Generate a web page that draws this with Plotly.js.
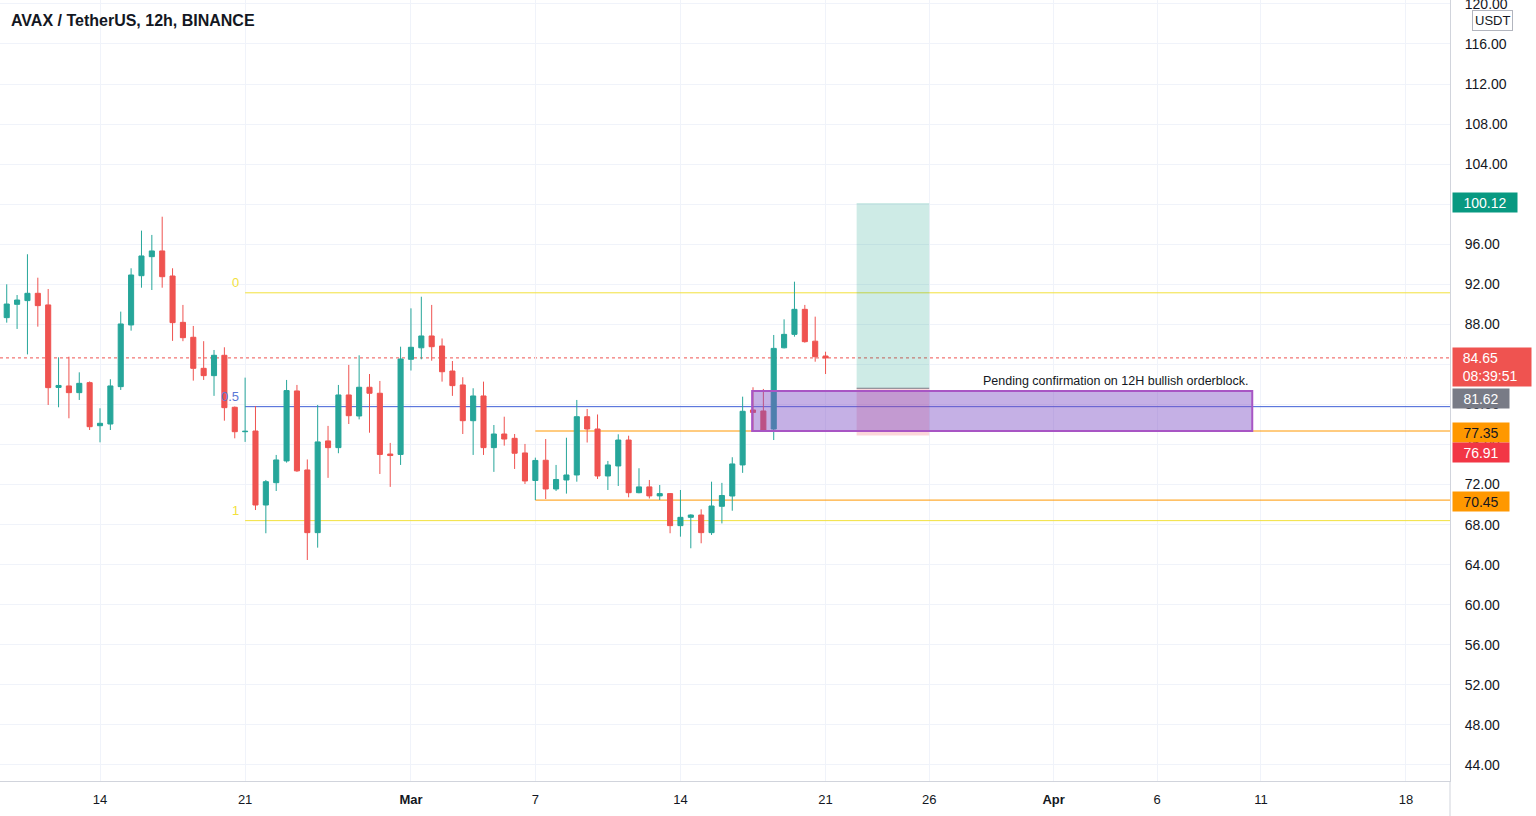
<!DOCTYPE html>
<html>
<head>
<meta charset="utf-8">
<script src="https://cdn.plot.ly/plotly-3.0.1.min.js"></script>
<style>
  html, body { margin: 0; padding: 0; background: #ffffff; }
  #chart { width: 1536px; height: 816px; }
</style>
</head>
<body>
<div id="chart"></div>
<script>
// ---------- data ----------
const barTimes = [
  '2022-02-09 12:00','2022-02-10 00:00','2022-02-10 12:00','2022-02-11 00:00','2022-02-11 12:00','2022-02-12 00:00','2022-02-12 12:00','2022-02-13 00:00','2022-02-13 12:00','2022-02-14 00:00',
  '2022-02-14 12:00','2022-02-15 00:00','2022-02-15 12:00','2022-02-16 00:00','2022-02-16 12:00','2022-02-17 00:00','2022-02-17 12:00','2022-02-18 00:00','2022-02-18 12:00','2022-02-19 00:00',
  '2022-02-19 12:00','2022-02-20 00:00','2022-02-20 12:00','2022-02-21 00:00','2022-02-21 12:00','2022-02-22 00:00','2022-02-22 12:00','2022-02-23 00:00','2022-02-23 12:00','2022-02-24 00:00',
  '2022-02-24 12:00','2022-02-25 00:00','2022-02-25 12:00','2022-02-26 00:00','2022-02-26 12:00','2022-02-27 00:00','2022-02-27 12:00','2022-02-28 00:00','2022-02-28 12:00','2022-03-01 00:00',
  '2022-03-01 12:00','2022-03-02 00:00','2022-03-02 12:00','2022-03-03 00:00','2022-03-03 12:00','2022-03-04 00:00','2022-03-04 12:00','2022-03-05 00:00','2022-03-05 12:00','2022-03-06 00:00',
  '2022-03-06 12:00','2022-03-07 00:00','2022-03-07 12:00','2022-03-08 00:00','2022-03-08 12:00','2022-03-09 00:00','2022-03-09 12:00','2022-03-10 00:00','2022-03-10 12:00','2022-03-11 00:00',
  '2022-03-11 12:00','2022-03-12 00:00','2022-03-12 12:00','2022-03-13 00:00','2022-03-13 12:00','2022-03-14 00:00','2022-03-14 12:00','2022-03-15 00:00','2022-03-15 12:00','2022-03-16 00:00',
  '2022-03-16 12:00','2022-03-17 00:00','2022-03-17 12:00','2022-03-18 00:00','2022-03-18 12:00','2022-03-19 00:00','2022-03-19 12:00','2022-03-20 00:00','2022-03-20 12:00','2022-03-21 00:00'
];
const openPrices = [
  88.67,90.00,90.37,91.10,89.94,81.70,81.85,81.18,82.18,77.88,
  78.05,81.78,87.94,92.86,94.76,95.33,92.83,88.20,86.71,83.61,
  82.88,84.91,79.72,77.28,77.35,69.96,72.19,74.36,81.35,73.46,
  67.20,76.36,75.69,80.95,78.85,81.72,81.12,75.05,75.01,84.51,
  85.66,86.84,85.84,83.34,81.95,78.38,80.85,75.69,77.05,76.62,
  75.16,72.41,74.43,71.56,72.46,72.96,78.78,77.55,72.86,73.86,
  76.45,71.19,71.77,70.87,71.10,67.90,68.73,68.96,67.20,69.83,
  70.86,73.96,79.45,79.35,77.55,85.66,87.00,89.50,86.32,84.84
];
const highPrices = [
  92.00,90.93,95.00,92.66,91.53,84.71,84.77,83.21,82.30,79.62,
  82.52,89.27,93.60,97.36,96.93,98.75,93.60,89.94,87.84,86.32,
  85.44,85.71,79.80,82.68,79.85,72.46,74.96,82.45,81.95,74.51,
  79.95,77.86,81.95,83.95,84.91,83.04,82.35,76.16,85.77,89.60,
  90.76,89.94,86.59,84.34,82.72,81.62,82.28,77.95,78.78,77.05,
  76.06,74.69,76.55,73.96,76.68,80.45,79.55,79.00,74.36,77.02,
  76.88,73.63,72.46,71.96,71.15,71.46,69.03,69.53,72.29,72.17,
  74.73,80.78,81.72,81.55,86.94,88.50,92.26,89.94,88.77,85.27
];
const lowPrices = [
  88.17,87.54,85.00,87.77,79.95,79.72,78.62,80.45,77.45,76.22,
  77.45,81.45,87.37,91.66,91.43,91.66,86.35,86.32,82.38,82.45,
  80.86,78.38,76.62,76.26,69.46,67.14,71.36,74.19,73.27,64.47,
  65.70,72.67,75.13,78.05,78.51,77.18,73.06,71.77,73.96,83.39,
  84.51,84.37,82.28,80.86,77.05,74.96,74.96,73.27,75.89,73.56,
  72.06,70.45,70.56,71.36,71.10,72.29,76.20,72.56,71.46,71.86,
  70.73,71.13,70.61,70.46,67.14,66.80,65.64,66.14,66.97,68.12,
  69.39,73.17,77.40,77.26,76.45,85.60,86.77,86.17,84.27,83.04
];
const closePrices = [
  90.03,90.43,91.10,89.87,81.68,81.90,81.18,82.11,77.78,78.12,
  81.85,88.04,92.93,94.83,95.33,92.76,88.17,86.67,83.61,82.88,
  84.91,79.68,77.28,77.32,69.96,72.29,74.46,81.39,73.37,67.20,
  76.26,75.69,80.95,78.88,81.72,81.12,75.01,74.90,84.54,85.71,
  86.84,85.77,83.27,81.88,78.38,80.85,75.69,77.05,76.55,75.13,
  72.36,74.41,71.56,72.51,72.96,78.78,77.55,72.86,73.96,76.45,
  71.19,71.77,70.87,71.10,67.90,68.73,68.96,67.20,69.86,70.91,
  74.06,79.32,79.21,77.38,85.60,87.00,89.50,86.27,84.77,84.65
];

// tick labels
const dateTickVals = ['2022-02-14','2022-02-21','2022-03-01','2022-03-07','2022-03-14','2022-03-21','2022-03-26','2022-04-01','2022-04-06','2022-04-11','2022-04-18'];
const dateTickText = ['14','21','<b>Mar</b>','7','14','21','26','<b>Apr</b>','6','11','18'];

// drawing levels
const fibLevels = [91.15, 79.78, 68.40];
const fibLabels = ['0', '0.5', '1'];
const fibStart = '2022-02-21 00:00';
const orangeLevels = [77.35, 70.45];
const orangeStart = '2022-03-07 00:00';
const lastPrice = 84.65;
const countdown = '08:39:51';
const orderBlock = {top: 81.35, bottom: 77.35, start: '2022-03-17 11:00', end: '2022-04-10 14:00'};
const longPos = {entry: 81.62, target: 100.12, stop: 76.91, start: '2022-03-22 12:00', end: '2022-03-26 00:00'};
const noteText = 'Pending confirmation on 12H bullish orderblock.';

// price badges on right axis
const badgeValues = [100.12, 81.62, 77.35, 76.91, 70.45];
const badgeColors = ['#089981', '#787b86', '#ff9800', '#f23645', '#ff9800'];
const badgeTextColors = ['#ffffff', '#ffffff', '#131722', '#ffffff', '#131722'];
const badgeShifts = [0, -10, -1, -17, -1];

// ---------- chart ----------
const FONT = 'Liberation Sans, Arial, sans-serif';
const FAR_RIGHT = '2022-04-30 00:00';

const candles = {
  type: 'candlestick',
  x: barTimes,
  open: openPrices, high: highPrices, low: lowPrices, close: closePrices,
  increasing: {line: {color: '#26a69a', width: 1}, fillcolor: '#26a69a'},
  decreasing: {line: {color: '#ef5350', width: 1}, fillcolor: '#ef5350'},
  whiskerwidth: 0,
  hoverinfo: 'skip'
};

const shapes = [];
const fibColors = ['#f2e13c', '#3f5fd6', '#f2e13c'];
fibLevels.forEach((lv, i) => {
  shapes.push({type: 'line', layer: 'between', xref: 'x', yref: 'y',
    x0: fibStart, x1: FAR_RIGHT, y0: lv, y1: lv,
    line: {color: fibColors[i], width: 1}});
});
orangeLevels.forEach(lv => {
  shapes.push({type: 'line', layer: 'between', xref: 'x', yref: 'y',
    x0: orangeStart, x1: FAR_RIGHT, y0: lv, y1: lv,
    line: {color: '#ff9800', width: 1}});
});
shapes.push({type: 'line', layer: 'between', xref: 'paper', yref: 'y',
  x0: 0, x1: 1, y0: lastPrice, y1: lastPrice,
  line: {color: '#ef5350', width: 1, dash: 'dot'}});
shapes.push({type: 'rect', layer: 'above', xref: 'x', yref: 'y',
  x0: longPos.start, x1: longPos.end, y0: longPos.entry, y1: longPos.target,
  fillcolor: 'rgba(8,153,129,0.2)', line: {width: 0}});
shapes.push({type: 'rect', layer: 'above', xref: 'x', yref: 'y',
  x0: longPos.start, x1: longPos.end, y0: longPos.stop, y1: longPos.entry,
  fillcolor: 'rgba(242,54,69,0.2)', line: {width: 0}});
shapes.push({type: 'line', layer: 'above', xref: 'x', yref: 'y',
  x0: longPos.start, x1: longPos.end, y0: longPos.entry, y1: longPos.entry,
  line: {color: '#787b86', width: 1}});
shapes.push({type: 'rect', layer: 'above', xref: 'x', yref: 'y',
  x0: orderBlock.start, x1: orderBlock.end, y0: orderBlock.bottom, y1: orderBlock.top,
  fillcolor: 'rgba(126,80,198,0.45)', line: {color: '#a855c4', width: 2}});
shapes.push({type: 'line', layer: 'above', xref: 'paper', yref: 'paper',
  x0: 1, x1: 1, y0: 0, y1: -0.06, line: {color: '#d1d4dc', width: 1}});

const annotations = [];
annotations.push({xref: 'paper', yref: 'paper', x: 0, y: 1, xanchor: 'left', yanchor: 'top',
  xshift: 9, yshift: -10, showarrow: false,
  text: '<b>AVAX / TetherUS, 12h, BINANCE</b>',
  font: {family: FONT, size: 16, color: '#131722'}});
const fibLabelColors = ['#f2e13c', '#5b78d6', '#f2e13c'];
fibLevels.forEach((lv, i) => {
  annotations.push({xref: 'x', yref: 'y', x: fibStart, y: lv, xanchor: 'right', yanchor: 'bottom',
    xshift: -4, yshift: 1, showarrow: false, text: fibLabels[i],
    font: {family: FONT, size: 13, color: fibLabelColors[i]}});
});
annotations.push({xref: 'x', yref: 'y', x: orderBlock.end, y: orderBlock.top, xanchor: 'right', yanchor: 'bottom',
  xshift: -2, yshift: 1, showarrow: false, text: noteText,
  font: {family: FONT, size: 12.5, color: '#131722'}});
badgeValues.forEach((v, i) => {
  annotations.push({xref: 'paper', yref: 'y', x: 1, y: v, xanchor: 'left', yanchor: 'middle',
    xshift: 2, yshift: badgeShifts[i], showarrow: false,
    text: v.toFixed(2), bgcolor: badgeColors[i], borderpad: 1,
    width: i === 0 ? 62 : 54, height: 17, align: 'center',
    font: {family: FONT, size: 14, color: badgeTextColors[i]}});
});
annotations.push({xref: 'paper', yref: 'y', x: 1, y: lastPrice, xanchor: 'left', yanchor: 'middle',
  xshift: 2, yshift: -9, showarrow: false,
  text: '&nbsp;&nbsp;' + lastPrice.toFixed(2) + '<br>&nbsp;&nbsp;' + countdown,
  bgcolor: '#ef5350', borderpad: 2, width: 74, align: 'left',
  font: {family: FONT, size: 14, color: '#ffffff'}});
annotations.push({xref: 'paper', yref: 'paper', x: 1, y: 1, xanchor: 'left', yanchor: 'top',
  xshift: 22, yshift: -10, showarrow: false, text: 'USDT',
  bgcolor: '#ffffff', bordercolor: '#b2b5be', borderwidth: 1, borderpad: 2,
  font: {family: FONT, size: 13, color: '#131722'}});

const layout = {
  width: 1536, height: 816,
  margin: {l: 0, r: 86, t: 0, b: 35},
  paper_bgcolor: '#ffffff', plot_bgcolor: '#ffffff',
  showlegend: false,
  dragmode: false,
  font: {family: FONT, size: 13, color: '#131722'},
  xaxis: {
    type: 'date',
    range: ['2022-02-09 04:13', '2022-04-20 02:57'],
    rangeslider: {visible: false},
    tickvals: dateTickVals, ticktext: dateTickText,
    tickfont: {family: FONT, size: 13, color: '#131722'},
    showgrid: true, gridcolor: '#f0f3fa', gridwidth: 1,
    showline: true, linecolor: '#d1d4dc', linewidth: 1,
    ticks: 'outside', ticklen: 6, tickcolor: 'rgba(0,0,0,0)',
    zeroline: false, fixedrange: true
  },
  yaxis: {
    side: 'right',
    range: [42.40, 120.39],
    tick0: 0, dtick: 4, tickformat: '.2f',
    tickfont: {family: FONT, size: 14, color: '#131722'},
    ticklabeloverflow: 'allow',
    showgrid: true, gridcolor: '#f0f3fa', gridwidth: 1,
    showline: true, linecolor: '#d1d4dc', linewidth: 1,
    ticks: 'outside', ticklen: 11, tickcolor: 'rgba(0,0,0,0)',
    zeroline: false, fixedrange: true
  },
  shapes: shapes,
  annotations: annotations
};

Plotly.newPlot('chart', [candles], layout, {displayModeBar: false, staticPlot: true});
</script>
</body>
</html>
